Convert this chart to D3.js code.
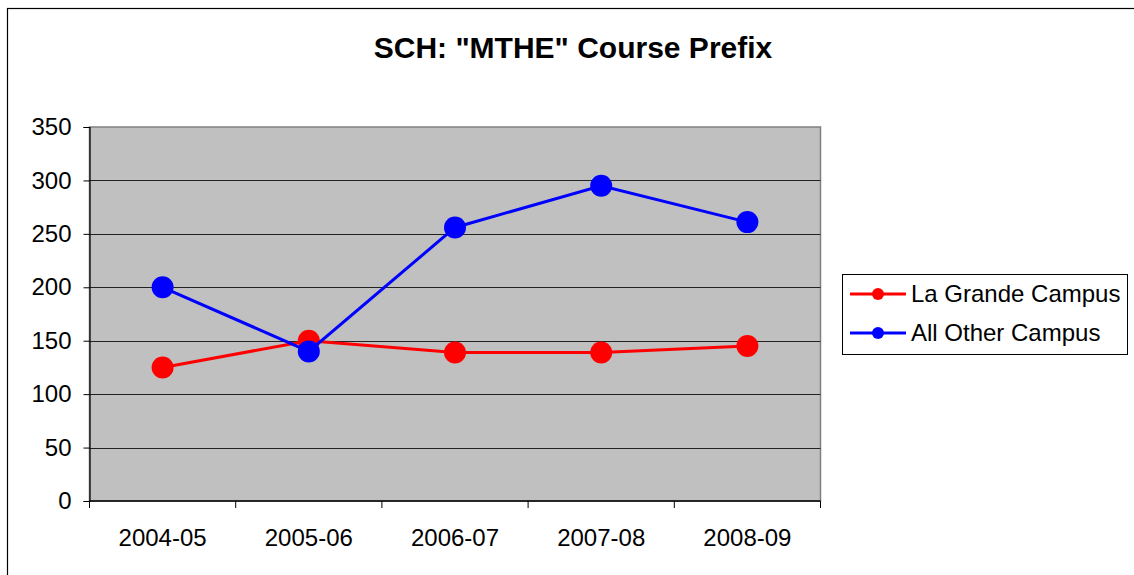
<!DOCTYPE html>
<html>
<head>
<meta charset="utf-8">
<script src="https://cdn.jsdelivr.net/npm/d3@7"></script>
<style>
  body { margin: 0; background: #fff; }
  text { font-family: "Liberation Sans", Arial, sans-serif; }
</style>
</head>
<body>
<svg class="chart"></svg>
<script>
const width = 1134;
const height = 575;

const categories = ['2004-05', '2005-06', '2006-07', '2007-08', '2008-09'];
const laGrande = [125, 150, 139, 139, 145];
const allOther = [200, 140, 256, 295, 261];
const yTicks = [0, 50, 100, 150, 200, 250, 300, 350];
const seriesNames = ['La Grande Campus', 'All Other Campus'];
const seriesColors = ['#ff0000', '#0000ff'];

const plot = { left: 89.5, top: 127, right: 820.5, bottom: 501 };

const svg = d3.select('.chart')
  .attr('width', width).attr('height', height);

// outer chart border
svg.append('rect')
  .attr('x', 7.5).attr('y', 8.5)
  .attr('width', 1140).attr('height', 600)
  .attr('fill', 'white')
  .attr('stroke', 'black').attr('stroke-width', 1.2);

const x = d3.scaleBand()
  .domain(categories)
  .range([plot.left, plot.right]);
const y = d3.scaleLinear()
  .domain([0, 350])
  .range([plot.bottom, plot.top]);

// plot background
svg.append('rect')
  .attr('x', plot.left).attr('y', plot.top)
  .attr('width', plot.right - plot.left).attr('height', plot.bottom - plot.top)
  .attr('fill', '#c0c0c0')
  .attr('stroke', '#808080').attr('stroke-width', 1.5);

// gridlines
svg.append('g')
  .selectAll('line')
  .data(yTicks.filter(d => d > 0 && d < 350))
  .enter()
  .append('line')
  .attr('x1', plot.left).attr('x2', plot.right)
  .attr('y1', d => Math.round(y(d)) + 0.5)
  .attr('y2', d => Math.round(y(d)) + 0.5)
  .style('stroke', '#222')
  .style('stroke-width', 1);

// y axis
const yAxis = svg.append('g')
  .attr('transform', `translate(${plot.left},0)`)
  .call(d3.axisLeft(y).tickValues(yTicks).tickSize(6).tickPadding(12));
yAxis.select('.domain').attr('stroke', 'black').attr('stroke-width', 1.2);
yAxis.selectAll('.tick line').attr('stroke', 'black');
yAxis.selectAll('.tick text')
  .style('font-size', '24px')
  .style('font-family', '"Liberation Sans", Arial, sans-serif')
  .attr('fill', 'black');

// x axis with ticks between categories
const xAxisG = svg.append('g')
  .attr('transform', `translate(0,${plot.bottom})`);
xAxisG.append('line')
  .attr('x1', plot.left).attr('x2', plot.right)
  .attr('y1', 0).attr('y2', 0)
  .style('stroke', 'black').style('stroke-width', 1.5);
const boundaries = categories.map(c => x(c)).concat([x(categories[categories.length - 1]) + x.bandwidth()]);
xAxisG.selectAll('.xtick')
  .data(boundaries)
  .enter()
  .append('line')
  .attr('class', 'xtick')
  .attr('x1', d => d).attr('x2', d => d)
  .attr('y1', 0).attr('y2', 7)
  .style('stroke', 'black').style('stroke-width', 1);
xAxisG.selectAll('.xlabel')
  .data(categories)
  .enter()
  .append('text')
  .attr('class', 'xlabel')
  .attr('x', d => x(d) + x.bandwidth() / 2)
  .attr('y', 45)
  .attr('text-anchor', 'middle')
  .style('font-size', '24px')
  .text(d => d);

// series
const line = d3.line()
  .x((d, i) => x(categories[i]) + x.bandwidth() / 2)
  .y(d => y(d));

[laGrande, allOther].forEach((values, s) => {
  const g = svg.append('g');
  g.append('path')
    .datum(values)
    .attr('d', line)
    .attr('fill', 'none')
    .attr('stroke', seriesColors[s])
    .attr('stroke-width', 3);
  g.selectAll('circle')
    .data(values)
    .enter()
    .append('circle')
    .attr('cx', (d, i) => x(categories[i]) + x.bandwidth() / 2)
    .attr('cy', d => y(d))
    .attr('r', 11)
    .attr('fill', seriesColors[s]);
});

// title
svg.append('text')
  .attr('x', 573).attr('y', 58)
  .attr('text-anchor', 'middle')
  .style('font-size', '30px')
  .style('font-weight', 'bold')
  .text('SCH: "MTHE" Course Prefix');

// legend
const legend = svg.append('g');
legend.append('rect')
  .attr('x', 842.5).attr('y', 274.5)
  .attr('width', 285).attr('height', 80)
  .attr('fill', 'white')
  .attr('stroke', 'black').attr('stroke-width', 1);
seriesNames.forEach((name, i) => {
  const ly = 294 + i * 39;
  legend.append('line')
    .attr('x1', 850).attr('x2', 906)
    .attr('y1', ly).attr('y2', ly)
    .attr('stroke', seriesColors[i]).attr('stroke-width', 3);
  legend.append('circle')
    .attr('cx', 878).attr('cy', ly).attr('r', 6)
    .attr('fill', seriesColors[i]);
  legend.append('text')
    .attr('x', 911).attr('y', ly + 8)
    .style('font-size', '24px')
    .text(name);
});
</script>
</body>
</html>
